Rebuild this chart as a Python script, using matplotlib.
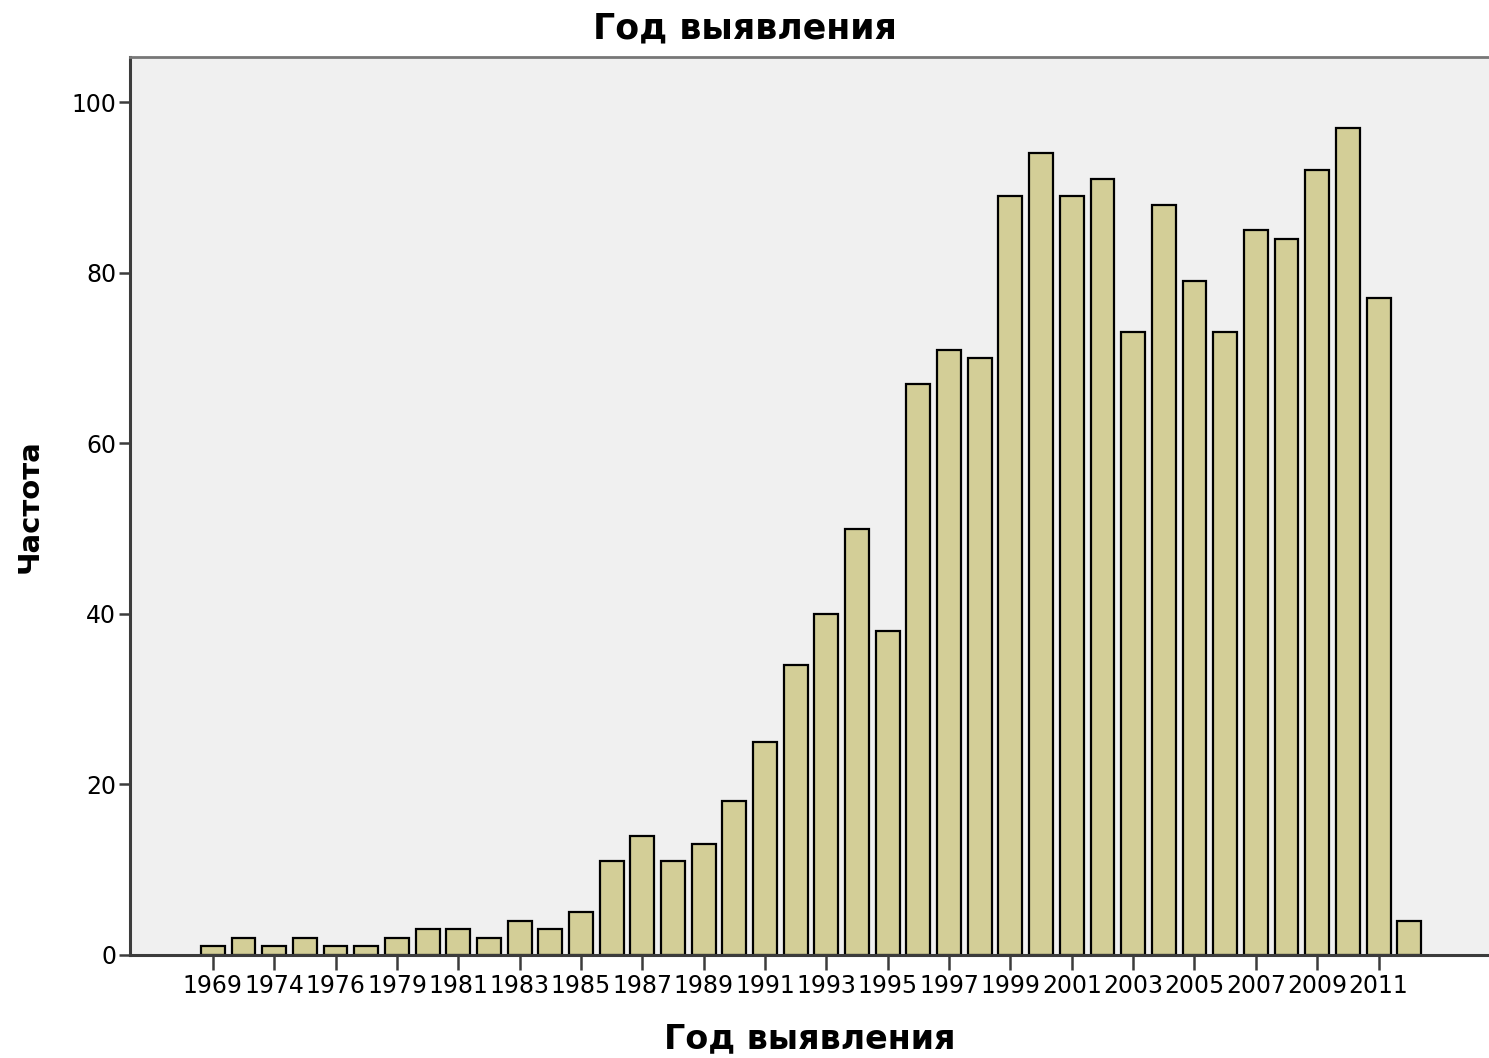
"""Bar chart: Год выявления (frequency by year of detection), SPSS style."""

import matplotlib
matplotlib.use("Agg")
import matplotlib.pyplot as plt
import numpy as np

plt.rcParams["font.family"] = ["DejaVu Sans"]

# Data
years = [1969, 1972, 1974, 1975, 1976, 1978, 1979, 1980, 1981, 1982,
         1983, 1984, 1985, 1986, 1987, 1988, 1989, 1990, 1991, 1992,
         1993, 1994, 1995, 1996, 1997, 1998, 1999, 2000, 2001, 2002,
         2003, 2004, 2005, 2006, 2007, 2008, 2009, 2010, 2011, 2012]
counts = [1, 2, 1, 2, 1, 1, 2, 3, 3, 2,
          4, 3, 5, 11, 14, 11, 13, 18, 25, 34,
          40, 50, 38, 67, 71, 70, 89, 94, 89, 91,
          73, 88, 79, 73, 85, 84, 92, 97, 77, 4]
yticks = [0, 20, 40, 60, 80, 100]

BAR_FILL = "#d3ce97"
BG = "#f0f0f0"
AXIS_COL = "#3c3c3c"

fig = plt.figure(figsize=(14.89, 10.58), dpi=100)
ax = fig.add_axes([0.0873, 0.0974, 0.9127, 0.8487])
ax.set_facecolor(BG)

x = np.arange(len(years))
ax.bar(x, counts, width=0.78, color=BAR_FILL, edgecolor="black", linewidth=1.6)

ax.set_xlim(-2.7, 41.6)
ax.set_ylim(0, 105.3)

ax.set_xticks(x[::2])
ax.set_xticklabels([str(y) for y in years[::2]], fontsize=17)
ax.set_yticks(yticks)
ax.set_yticklabels([str(v) for v in yticks], fontsize=17)
ax.tick_params(axis="x", length=11, width=1.8, color=AXIS_COL, pad=3)
ax.tick_params(axis="y", length=8, width=1.8, color=AXIS_COL, pad=2)

for side in ("left", "bottom"):
    ax.spines[side].set_color(AXIS_COL)
    ax.spines[side].set_linewidth(2.2)
ax.spines["top"].set_color("#777777")
ax.spines["top"].set_linewidth(2.0)
ax.spines["right"].set_visible(False)

ax.set_xlabel("Год выявления", fontsize=24, fontweight="bold", labelpad=17)
ax.set_ylabel("Частота", fontsize=21, fontweight="bold", labelpad=20)
fig.text(0.5, 0.973, "Год выявления", ha="center", va="center",
         fontsize=25, fontweight="bold")

fig.savefig("out.png", dpi=100, facecolor="white")
